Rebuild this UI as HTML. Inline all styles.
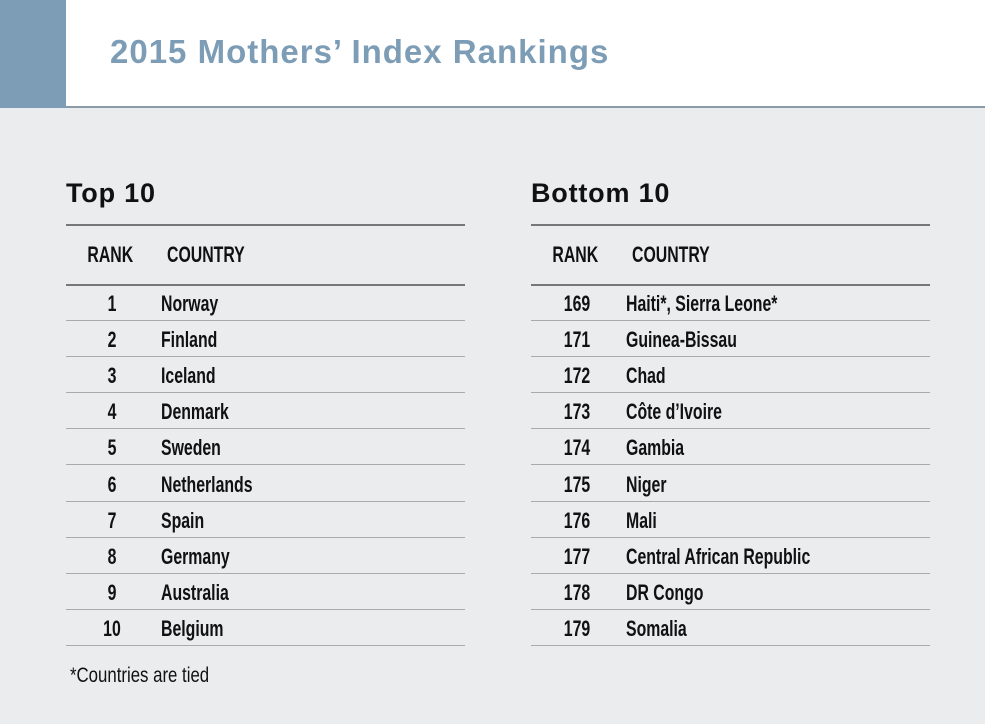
<!DOCTYPE html>
<html><head><meta charset="utf-8"><style>
body{margin:0;width:985px;height:724px;background:#ebecee;font-family:"Liberation Sans",sans-serif;position:relative;overflow:hidden}
#hdr{position:absolute;left:0;top:0;width:985px;height:106px;background:#fff;border-bottom:2px solid #8a9aa6}
#blk{position:absolute;left:0;top:0;width:66px;height:108px;background:#7d9db6}
#title{position:absolute;left:110px;top:33px;font-size:33px;font-weight:bold;color:#7d9db6;letter-spacing:1px;white-space:nowrap}
.tbl{position:absolute;top:180px;width:399px}
.tbl h2{margin:0;font-size:27px;font-weight:bold;color:#111;position:absolute;top:-2px;left:0;letter-spacing:0.8px}
.line{position:absolute;left:0;width:399px;height:0;border-top:2px solid #777}
.rl{position:absolute;left:0;width:399px;height:0;border-top:1px solid #aaa}
.t{position:absolute;font-size:22px;font-weight:bold;color:#111;transform:scaleX(0.72);transform-origin:left center;white-space:nowrap}
.r{position:absolute;font-size:22px;font-weight:bold;color:#111;transform:scaleX(0.72);white-space:nowrap;width:60px;text-align:center}
#note{position:absolute;left:70px;top:664px;font-size:21px;color:#111;transform:scaleX(0.8);transform-origin:left center;white-space:nowrap}
</style></head><body>
<div id="hdr"></div>
<div id="blk"></div>
<div id="title">2015 Mothers’ Index Rankings</div>
<div class="tbl" id="top" style="left:66px"></div>
<div class="tbl" id="bot" style="left:531px"></div>
<div id="note">*Countries are tied</div>
<script>
const topRanks=["1","2","3","4","5","6","7","8","9","10"];
const topCountries=["Norway","Finland","Iceland","Denmark","Sweden","Netherlands","Spain","Germany","Australia","Belgium"];
const botRanks=["169","171","172","173","174","175","176","177","178","179"];
const botCountries=["Haiti*, Sierra Leone*","Guinea-Bissau","Chad","Côte d’Ivoire","Gambia","Niger","Mali","Central African Republic","DR Congo","Somalia"];
function build(id,title,ranks,countries){
  const t=document.getElementById(id);
  const h=document.createElement('h2');h.textContent=title;
  
  
  t.appendChild(h);
  const l1=document.createElement('div');l1.className='line';l1.style.top='44px';
  
  
  t.appendChild(l1);
  const rh=document.createElement('div');rh.className='r';rh.textContent='RANK';rh.style.left='13px';rh.style.top='62px';
  
  
  t.appendChild(rh);
  const ch=document.createElement('div');ch.className='t';ch.textContent='COUNTRY';ch.style.left='101px';ch.style.top='62px';
  
  
  t.appendChild(ch);
  const l2=document.createElement('div');l2.className='line';l2.style.top='104px';
  
  
  t.appendChild(l2);
  ranks.forEach((r,i)=>{
    const y=105+i*36.1;
    const a=document.createElement('div');a.className='r';a.textContent=r;a.style.left='16px';a.style.top=(y+6)+'px';
    
    
    t.appendChild(a);
    const b=document.createElement('div');b.className='t';b.textContent=countries[i];b.style.left='95px';b.style.top=(y+6)+'px';
    
    
    t.appendChild(b);
    const rl=document.createElement('div');rl.className='rl';rl.style.top=(y+35)+'px';
    
    
    t.appendChild(rl);
  });
}
build('top','Top 10',topRanks,topCountries);
build('bot','Bottom 10',botRanks,botCountries);
</script>
</body></html>
